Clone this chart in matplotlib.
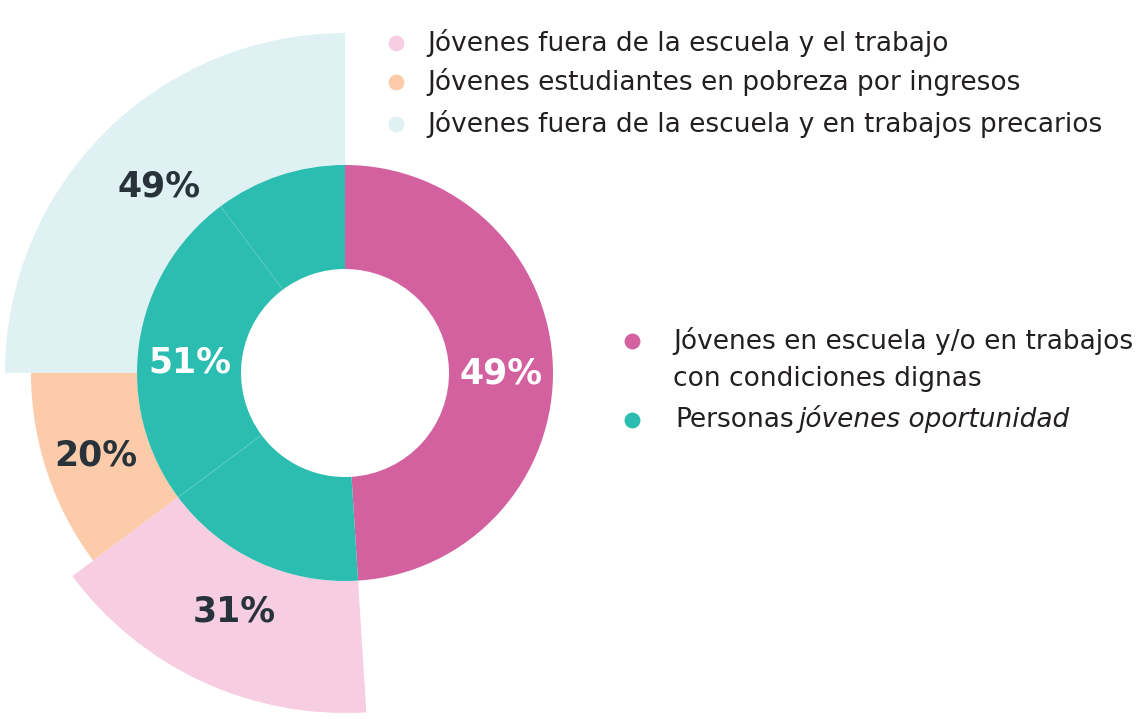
import numpy as np
import matplotlib.pyplot as plt
from matplotlib.patches import Wedge

# inner ring: share of young people
inner_labels = ['Jóvenes en escuela y/o en trabajos\ncon condiciones dignas',
                'Personas jóvenes oportunidad']
inner_values = [49, 51]
inner_colors = ['#d3609f', '#2bbdb0']

# breakdown of the 51% (outer ring, counterclockwise from the top)
outer_labels = ['Jóvenes fuera de la escuela y en trabajos precarios',
                'Jóvenes estudiantes en pobreza por ingresos',
                'Jóvenes fuera de la escuela y el trabajo']
outer_values = [49, 20, 31]
outer_colors = ['#dff1f3', '#fbcbaa', '#f7cde1']
outer_radius = [340, 314, 340]

# faint split lines inside the teal part (clockwise from the pink edge)
teal_split = [31, 49, 20]

W, H = 1143, 719
cx, cy = 345, H - 373
R = 208
hole = 104
dark = '#27323a'
txt = '#231f20'
fs = 19

fig = plt.figure(figsize=(W / 100, H / 100), dpi=100)
ax = fig.add_axes([0, 0, 1, 1])

# inner donut, pink first going clockwise from the top
vals = [inner_values[0]] + [inner_values[1] * s / 100 for s in teal_split]
cols = [inner_colors[0]] + [inner_colors[1]] * len(teal_split)
ax.pie(vals, colors=cols, startangle=90, counterclock=False, radius=R,
       center=(cx, cy), wedgeprops=dict(width=R - hole, linewidth=0))

# faint lines between the teal pieces
ang = 90 - 360 * inner_values[0] / 100
for s in teal_split[:-1]:
    ang -= 360 * inner_values[1] / 100 * s / 100
    a = np.deg2rad(ang)
    ax.plot([cx + hole * np.cos(a), cx + R * np.cos(a)],
            [cy + hole * np.sin(a), cy + R * np.sin(a)],
            color='#5ccbc0', lw=0.6, zorder=3)

# outer wedges spread over the teal span
span = 360 * inner_values[1] / 100
t0 = 90
for v, c, r in zip(outer_values, outer_colors, outer_radius):
    t1 = t0 + span * v / 100
    ax.add_patch(Wedge((cx, cy), r, t0, t1, width=r - R, color=c, lw=0, zorder=0.5))
    mid = np.deg2rad((t0 + t1) / 2)
    rl = 263
    ax.text(cx + rl * np.cos(mid), cy + rl * np.sin(mid), f'{v}%',
            ha='center', va='center', fontsize=25, fontweight='bold', color=dark)
    t0 = t1

# inner labels
ax.text(cx + 156, cy, f'{inner_values[0]}%', ha='center', va='center',
        fontsize=25, fontweight='bold', color='white')
mid = np.deg2rad(176)
ax.text(cx + 156 * np.cos(mid), cy + 156 * np.sin(mid), f'{inner_values[1]}%',
        ha='center', va='center', fontsize=25, fontweight='bold', color='white')

# top legend (outer ring)
top_rows = [43, 82, 124]
for lab, c, y in zip(outer_labels[::-1], outer_colors[::-1], top_rows):
    ax.scatter([396], [H - y], s=130, color=c, lw=0)
    ax.text(427, H - y, lab, ha='left', va='center', fontsize=fs, color=txt)

# right legend (inner ring)
ax.scatter([632], [H - 341], s=130, color=inner_colors[0], lw=0)
ax.text(673, H - 341, inner_labels[0].split('\n')[0], ha='left', va='center',
        fontsize=fs, color=txt)
ax.text(673, H - 379, inner_labels[0].split('\n')[1], ha='left', va='center',
        fontsize=fs, color=txt)
ax.scatter([632], [H - 420], s=130, color=inner_colors[1], lw=0)
t1 = ax.text(675, H - 420, 'Personas', ha='left', va='center', fontsize=fs, color=txt)
ax.annotate('jóvenes oportunidad', xy=(1, 0), xycoords=t1, xytext=(4, 0),
            textcoords='offset points', ha='left', va='bottom',
            fontsize=fs, style='italic', color=txt)

ax.set_xlim(0, W)
ax.set_ylim(0, H)
ax.set_aspect('equal')
ax.axis('off')

fig.savefig('out.png', dpi=100)
